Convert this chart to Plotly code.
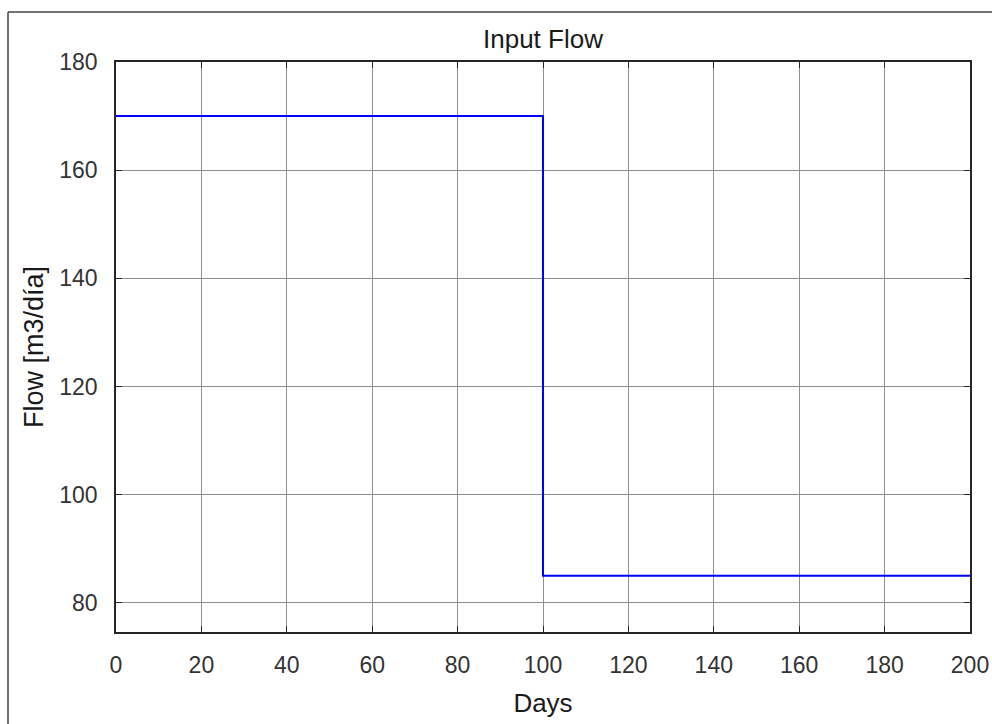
import plotly.graph_objects as go

days = [0, 100, 100, 200]
flow = [170, 170, 85, 85]
x_ticks = [0, 20, 40, 60, 80, 100, 120, 140, 160, 180, 200]
y_ticks = [80, 100, 120, 140, 160, 180]

W, H = 992, 724
L, R, T, B = 116, 22, 62, 92
pw, ph = W - L - R, H - T - B

fig = go.Figure()
fig.add_trace(go.Scatter(x=days, y=flow, mode="lines",
                         line=dict(color="#0000ff", width=2), showlegend=False))

font = dict(family="Liberation Sans, Arial, sans-serif", color="#333333", size=23)
axis_common = dict(showline=True, linecolor="#262626", linewidth=1.5, mirror="ticks",
                   ticks="inside", ticklen=6, tickcolor="#262626", tickwidth=1,
                   showgrid=True, gridcolor="#8f8f8f", gridwidth=1, zeroline=False,
                   automargin=False, tickfont=dict(size=23, color="#333333"))

fig.update_layout(
    width=W, height=H,
    margin=dict(l=L, r=R, t=T, b=B, autoexpand=False),
    paper_bgcolor="white", plot_bgcolor="white",
    font=font,
    title=dict(text="Input Flow", xref="paper", x=0.5, xanchor="center",
               yref="container", y=1 - 39 / H, yanchor="middle",
               font=dict(size=26, color="#1a1a1a")),
    xaxis=dict(range=[0, 200], tickvals=x_ticks, ticklabelstandoff=12,
               title=dict(text="Days", font=dict(size=26, color="#1a1a1a"), standoff=16),
               **axis_common),
    yaxis=dict(range=[74.6, 180], tickvals=y_ticks, ticklabelstandoff=12,
               title=dict(text="Flow [m3/día]", font=dict(size=27, color="#1a1a1a"), standoff=8),
               **axis_common),
)

# outer frame (top and left edges visible in the reference)
x_left = (8 - L) / pw
y_top = 1 + (T - 12) / ph
x_right = 1 + (R + 5) / pw
y_bot = -(B + 5) / ph
fig.add_shape(type="line", xref="paper", yref="paper", x0=x_left, x1=x_right, y0=y_top, y1=y_top,
              line=dict(color="#444444", width=1.5))
fig.add_shape(type="line", xref="paper", yref="paper", x0=x_left, x1=x_left, y0=y_top, y1=y_bot,
              line=dict(color="#444444", width=1.5))

fig.write_html("out.html")
